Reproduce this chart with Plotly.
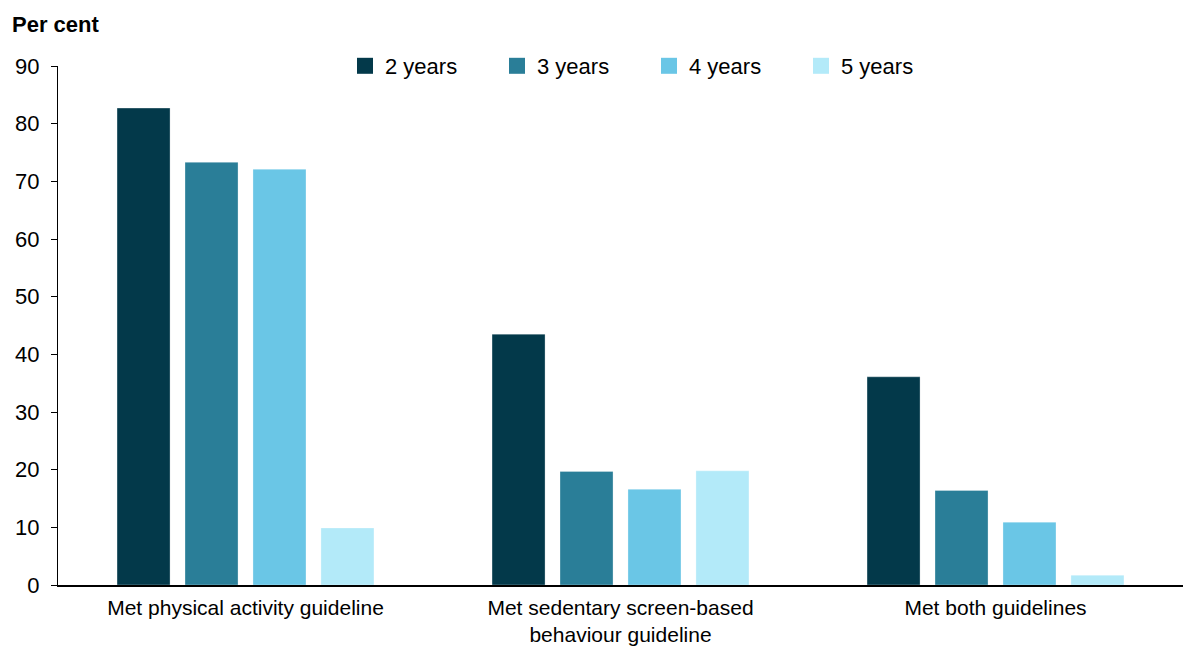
import plotly.graph_objects as go

categories = ["Met physical activity guideline",
              "Met sedentary screen-based<br>behaviour guideline",
              "Met both guidelines"]
series_names = ["2 years", "3 years", "4 years", "5 years"]
values_2y = [82.7, 43.5, 36.1]
values_3y = [73.3, 19.7, 16.4]
values_4y = [72.1, 16.6, 10.9]
values_5y = [9.9, 19.8, 1.7]
colors = ["#03394a", "#2a7e98", "#6ac6e6", "#b3eaf9"]
y_ticks = [0, 10, 20, 30, 40, 50, 60, 70, 80, 90]

W, H = 1183, 650
fig = go.Figure()
for name, vals, col in zip(series_names, [values_2y, values_3y, values_4y, values_5y], colors):
    fig.add_trace(go.Bar(x=categories, y=vals, name=name, showlegend=False, legendgroup=name,
                         marker=dict(color=col, line=dict(color="rgba(255,255,255,0.6)", width=0.5))))
# legend-only entries with larger square swatches
for name, col in zip(series_names, colors):
    fig.add_trace(go.Scatter(x=[None], y=[None], mode="markers", name=name, legendgroup=name,
                             marker=dict(symbol="square", size=18, color=col), hoverinfo="skip"))

fig.update_layout(
    width=W, height=H,
    margin=dict(l=58, r=0, t=66, b=65, autoexpand=False),
    paper_bgcolor="white", plot_bgcolor="white",
    barmode="group", bargap=0.275, bargroupgap=0.22,
    font=dict(family="Liberation Sans, Arial, sans-serif", size=22, color="#000"),
    legend=dict(orientation="h", xref="container", yref="container",
                x=345 / W, y=1 - 66 / H, xanchor="left", yanchor="middle",
                font=dict(size=22), entrywidth=107, itemwidth=30,
                bgcolor="rgba(0,0,0,0)", traceorder="normal"),
    showlegend=True,
)
fig.add_annotation(text="<b>Per cent</b>", xref="paper", yref="paper",
                   x=(10 - 58) / 1125, y=1 + (66 - 25) / 519, xanchor="left", yanchor="middle",
                   showarrow=False, font=dict(size=22))
fig.update_yaxes(range=[0, 90], tickvals=y_ticks, showline=True, linecolor="#000", linewidth=1,
                 ticks="outside", ticklen=6, tickcolor="#000", showgrid=False, zeroline=False,
                 tickfont=dict(size=22), automargin=False, ticklabelstandoff=7)
fig.update_xaxes(showline=True, linecolor="#000", linewidth=1.5, ticks="", showgrid=False,
                 tickfont=dict(size=21), automargin=False, ticklabelstandoff=3)

fig.write_html("out.html", config={"displayModeBar": False},
               post_script="document.body.style.margin='0';document.body.style.overflow='hidden';")
